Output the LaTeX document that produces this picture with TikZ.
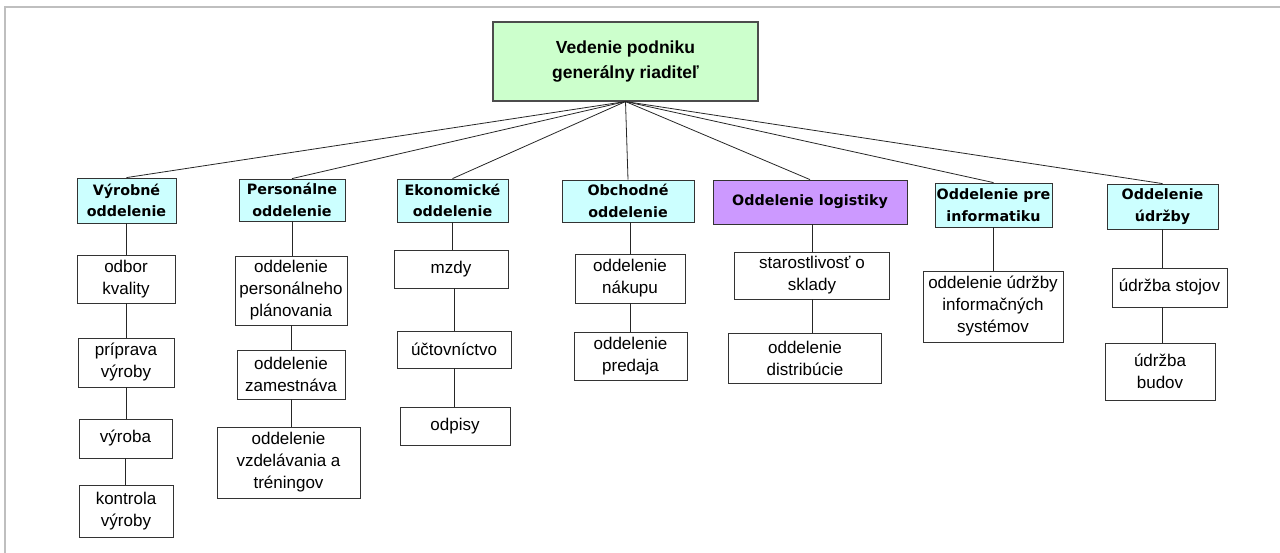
\documentclass[tikz,border=0pt]{standalone}
\usepackage{fontspec}
\setmainfont{Liberation Sans}
\newfontfamily\hdfont{DejaVu Sans}
\definecolor{topgreen}{RGB}{204,255,204}
\definecolor{deptcyan}{RGB}{204,255,255}
\definecolor{logipurple}{RGB}{204,153,255}
\begin{document}
\begin{tikzpicture}[x=1pt,y=-1pt,
  box/.style={draw=black!80,line width=0.8pt,inner sep=0pt,align=center,
    font=\fontsize{17}{22}\selectfont},
  dept/.style={box,fill=deptcyan,font=\hdfont\bfseries\fontsize{14.3}{21.5}\selectfont},
  logi/.style={box,fill=logipurple,font=\hdfont\bfseries\fontsize{14.3}{21.5}\selectfont},
  topbox/.style={box,fill=topgreen,draw=black!70,line width=1.1pt,font=\bfseries\fontsize{17.5}{25}\selectfont},
  conn/.style={draw=black!85,line width=0.8pt}]
\useasboundingbox (0,0) rectangle (1280,553);
\draw[black!25,line width=1.5pt] (5,553) -- (5,7) -- (1280,7);
% top
\node[topbox,minimum width=265,minimum height=79] (top) at (625.5,61.5) {Vedenie podniku\\generálny riaditeľ};
% level 1
\node[dept,minimum width=99,minimum height=45] (v) at (126.5,200.5) {Výrobné\\oddelenie};
\node[dept,minimum width=106,minimum height=42] (p) at (292,200) {Personálne\\oddelenie};
\node[dept,minimum width=111,minimum height=43] (e) at (452.5,200.5) {Ekonomické\\oddelenie};
\node[dept,minimum width=132,minimum height=42] (o) at (628,201) {Obchodné\\oddelenie};
\node[logi,minimum width=194,minimum height=44] (l) at (810,202) {Oddelenie logistiky};
\node[dept,minimum width=117,minimum height=44] (i) at (993.5,205) {Oddelenie pre\\informatiku};
\node[dept,minimum width=111,minimum height=45] (u) at (1162.5,206.5) {Oddelenie\\údržby};
% level 2
\node[box,minimum width=98,minimum height=48] (v1) at (126,279) {odbor\\kvality};
\node[box,minimum width=96,minimum height=49] (v2) at (126,362.5) {príprava\\výroby};
\node[box,minimum width=93,minimum height=39] (v3) at (125.5,438.5) {výroba};
\node[box,minimum width=94,minimum height=52] (v4) at (126,511) {kontrola\\výroby};
\node[box,minimum width=112,minimum height=69] (p1) at (291,290.5) {oddelenie\\personálneho\\plánovania};
\node[box,minimum width=108,minimum height=49] (p2) at (291,374.5) {oddelenie\\zamestnáva};
\node[box,minimum width=143,minimum height=71] (p3) at (288.5,462.5) {oddelenie\\vzdelávania a\\tréningov};
\node[box,minimum width=114,minimum height=38] (e1) at (451,269) {mzdy};
\node[box,minimum width=114,minimum height=37] (e2) at (454,349.5) {účtovníctvo};
\node[box,minimum width=110,minimum height=38] (e3) at (455,426) {odpisy};
\node[box,minimum width=110,minimum height=49] (o1) at (630,278.5) {oddelenie\\nákupu};
\node[box,minimum width=113,minimum height=48] (o2) at (630.5,356) {oddelenie\\predaja};
\node[box,minimum width=155,minimum height=47] (l1) at (812,275.5) {starostlivosť o\\sklady};
\node[box,minimum width=153,minimum height=50] (l2) at (805,358) {oddelenie\\distribúcie};
\node[box,minimum width=140,minimum height=71] (i1) at (993,306.5) {oddelenie údržby\\informačných\\systémov};
\node[box,minimum width=115,minimum height=39] (u1) at (1169.5,287.5) {údržba stojov};
\node[box,minimum width=110,minimum height=57] (u2) at (1160,371.5) {údržba\\budov};
% hub connectors
\foreach \n in {v,p,e,o,l,i,u}{\draw[conn] (top.south) -- (\n.north);}
% vertical connectors
\draw[conn] (v.south) -- (v.south |- v1.north);
\draw[conn] (v1.south) -- (v1.south |- v2.north);
\draw[conn] (v2.south) -- (v2.south |- v3.north);
\draw[conn] (v3.south) -- (v3.south |- v4.north);
\draw[conn] (p.south) -- (p.south |- p1.north);
\draw[conn] (p1.south) -- (p1.south |- p2.north);
\draw[conn] (p2.south) -- (p2.south |- p3.north);
\draw[conn] (e.south) -- (e.south |- e1.north);
\draw[conn] (e2.north |- e1.south) -- (e2.north);
\draw[conn] (e2.south) -- (e2.south |- e3.north);
\draw[conn] (o1.north |- o.south) -- (o1.north);
\draw[conn] (o1.south) -- (o1.south |- o2.north);
\draw[conn] (l1.north |- l.south) -- (l1.north);
\draw[conn] (l1.south) -- (l1.south |- l2.north);
\draw[conn] (i.south) -- (i.south |- i1.north);
\draw[conn] (u.south) -- (u.south |- u1.north);
\draw[conn] (u.south |- u1.south) -- (u.south |- u2.north);
\end{tikzpicture}
\end{document}
